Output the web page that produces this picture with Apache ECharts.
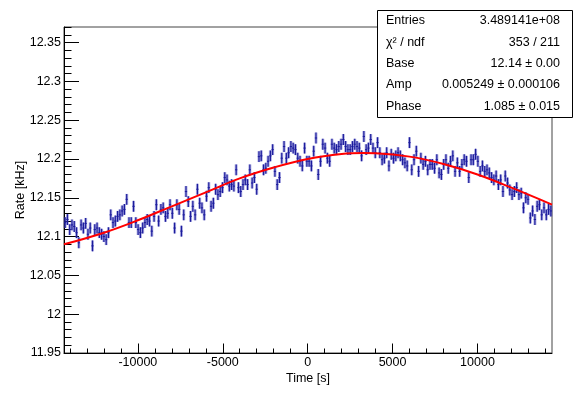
<!DOCTYPE html>
<html>
<head>
<meta charset="utf-8">
<script src="https://cdn.jsdelivr.net/npm/echarts@6/dist/echarts.min.js"></script>
<style>
  html, body { margin: 0; padding: 0; background: #fff; }
  #chart { width: 581px; height: 394px; }
</style>
</head>
<body>
<div id="chart"></div>
<script>
// time binning (s)
const tMin = -14350
const binWidth = 134.3
const tMax = tMin + 214 * binWidth

const rate = [
  12.118, 12.122, 12.109, 12.115, 12.113, 12.105, 12.092, 12.115, 12.111, 12.117,
  12.103, 12.111, 12.088, 12.109, 12.111, 12.105, 12.103, 12.100, 12.096, 12.105,
  12.128, 12.118, 12.120, 12.126, 12.128, 12.133, 12.135, 12.148, 12.118, 12.118,
  12.139, 12.118, 12.109, 12.105, 12.111, 12.118, 12.122, 12.120, 12.107, 12.126,
  12.141, 12.120, 12.135,
  12.137, 12.126, 12.130, 12.141, 12.130, 12.111, 12.141, 12.135, 12.107, 12.128,
  12.158, 12.145, 12.126, 12.139, 12.128, 12.161, 12.143, 12.137, 12.128, 12.152,
  12.163, 12.139, 12.143, 12.161, 12.154, 12.158, 12.163, 12.176, 12.173, 12.165,
  12.167, 12.165, 12.186, 12.163, 12.158, 12.167, 12.173, 12.167, 12.186, 12.169,
  12.176, 12.161, 12.203,
  12.204, 12.186, 12.188, 12.197, 12.204, 12.212, 12.184, 12.167, 12.176, 12.201,
  12.216, 12.201, 12.208, 12.216, 12.214, 12.212, 12.201, 12.197, 12.191, 12.214,
  12.197, 12.197, 12.191, 12.210, 12.227, 12.180, 12.197, 12.219, 12.214, 12.201,
  12.197, 12.219, 12.214, 12.212, 12.216, 12.219, 12.225, 12.216, 12.212, 12.212,
  12.216, 12.219, 12.216,
  12.214, 12.204, 12.229, 12.212, 12.214, 12.225, 12.214, 12.208, 12.221, 12.208,
  12.199, 12.201, 12.208, 12.191, 12.206, 12.201, 12.204, 12.208, 12.204, 12.199,
  12.195, 12.191, 12.221, 12.186, 12.199, 12.210, 12.184, 12.201, 12.193, 12.197,
  12.186, 12.193, 12.193, 12.188, 12.199, 12.182, 12.180, 12.193, 12.199, 12.188,
  12.197, 12.204, 12.184,
  12.195, 12.184, 12.193, 12.199, 12.197, 12.176, 12.199, 12.199, 12.206, 12.197,
  12.184, 12.191, 12.184, 12.186, 12.182, 12.176, 12.173, 12.178, 12.167, 12.173,
  12.158, 12.178, 12.169, 12.160, 12.154, 12.158, 12.163, 12.154, 12.156, 12.137,
  12.150, 12.148, 12.124, 12.133, 12.122, 12.139, 12.141, 12.128, 12.137, 12.128,
  12.135, 12.133
]
const rateErr = 0.007

// fitted curve
const fitT = [-14350, -12000, -10000, -8000, -6000, -4000, -2000, 0, 2000, 3300, 4000, 6000, 8000, 10000, 12000, 14390]
const fitRate = [12.090, 12.105, 12.121, 12.139, 12.157, 12.175, 12.189, 12.200, 12.2065, 12.2077, 12.2074, 12.203, 12.1935, 12.180, 12.163, 12.1412]

// axis ticks
const xMajor = [-10000, -5000, 0, 5000, 10000]
const yMajor = [11.95, 12, 12.05, 12.1, 12.15, 12.2, 12.25, 12.3, 12.35]

// stats box
const statNames = ['Entries', 'χ² / ndf', 'Base', 'Amp', 'Phase']
const statValues = ['3.489141e+08', '353 / 211', '12.14 ± 0.00', '0.005249 ± 0.000106', '1.085 ± 0.015']

const xMinor = []
for (let t = -14000; t <= 14000; t += 1000) {
  if (t % 5000 !== 0) xMinor.push(t)
}
const yMinor = []
for (let k = 1196; k <= 1237; k++) {
  if (k % 5 !== 0) yMinor.push(k / 100)
}

const font = 'Liberation Sans'
const dark = '#1b1b9c'

const points = rate.map((v, i) => [tMin + (i + 0.5) * binWidth, v, rateErr])
const fitData = fitT.map((t, i) => [t, fitRate[i]])

const renderPoint = (params, api) => {
  const t = api.value(0)
  const v = api.value(1)
  const e = api.value(2)
  const c = api.coord([t, v])
  const top = api.coord([t, v + e])
  const bot = api.coord([t, v - e])
  const l = api.coord([t - binWidth / 2, v])
  const r = api.coord([t + binWidth / 2, v])
  return {
    type: 'group',
    children: [
      {
        type: 'rect',
        shape: { x: c[0] - 1.5, y: top[1], width: 3, height: bot[1] - top[1] },
        style: { fill: 'rgba(70,70,190,0.42)' },
      },
      {
        type: 'line',
        shape: { x1: c[0], y1: top[1], x2: c[0], y2: bot[1] },
        style: { stroke: dark, lineWidth: 1.2 },
      },
      {
        type: 'line',
        shape: { x1: l[0], y1: c[1], x2: r[0], y2: c[1] },
        style: { stroke: dark, lineWidth: 1 },
      },
    ],
  }
}

const statsGraphics = [
  {
    type: 'rect',
    left: 377,
    top: 10,
    z: 100,
    shape: { width: 195, height: 107 },
    style: { fill: '#fff', stroke: '#000', lineWidth: 1 },
  },
]
statNames.forEach((name, i) => {
  const cy = 20.7 + i * 21.4
  statsGraphics.push({
    type: 'text',
    z: 101,
    x: 386,
    y: cy,
    style: { text: name, font: '12.5px "' + font + '"', fill: '#000', textVerticalAlign: 'middle', textAlign: 'left' },
  })
  statsGraphics.push({
    type: 'text',
    z: 101,
    x: 560,
    y: cy,
    style: { text: statValues[i], font: '12.5px "' + font + '"', fill: '#000', textVerticalAlign: 'middle', textAlign: 'right' },
  })
})

const chart = echarts.init(document.getElementById('chart'))
chart.setOption({
  animation: false,
  backgroundColor: '#fff',
  textStyle: { fontFamily: font },
  grid: {
    left: 64,
    right: 29,
    top: 27,
    bottom: 41,
    show: true,
    borderColor: '#444',
    borderWidth: 1,
    backgroundColor: 'transparent',
  },
  xAxis: [
    {
      type: 'value',
      min: tMin,
      max: tMax,
      position: 'bottom',
      name: 'Time [s]',
      nameLocation: 'middle',
      nameGap: 19,
      nameMoveOverlap: false,
      nameTextStyle: { fontSize: 12.5, color: '#000', fontFamily: font },
      axisLine: { show: true, onZero: false, lineStyle: { color: '#000', width: 1 } },
      axisTick: { show: true, inside: true, length: 9.5, customValues: xMajor, lineStyle: { color: '#000' } },
      axisLabel: { show: true, customValues: xMajor, margin: 3, fontSize: 12.5, color: '#000', fontFamily: font, formatter: (v) => String(v) },
      splitLine: { show: false },
    },
    {
      type: 'value',
      min: tMin,
      max: tMax,
      position: 'bottom',
      axisLine: { show: false, onZero: false },
      axisTick: { show: true, inside: true, length: 4.5, customValues: xMinor, lineStyle: { color: '#000' } },
      axisLabel: { show: false },
      splitLine: { show: false },
    },
  ],
  yAxis: [
    {
      type: 'value',
      min: 11.95,
      max: 12.37,
      position: 'left',
      name: 'Rate [kHz]',
      nameLocation: 'middle',
      nameGap: 37,
      nameMoveOverlap: false,
      nameTextStyle: { fontSize: 12.5, color: '#000', fontFamily: font },
      axisLine: { show: true, onZero: false, lineStyle: { color: '#000', width: 1 } },
      axisTick: { show: true, inside: true, length: 15, customValues: yMajor, lineStyle: { color: '#000' } },
      axisLabel: { show: true, customValues: yMajor, margin: 3, fontSize: 12.5, color: '#000', fontFamily: font, formatter: (v) => String(v) },
      splitLine: { show: false },
    },
    {
      type: 'value',
      min: 11.95,
      max: 12.37,
      position: 'left',
      axisLine: { show: false, onZero: false },
      axisTick: { show: true, inside: true, length: 7.5, customValues: yMinor, lineStyle: { color: '#000' } },
      axisLabel: { show: false },
      splitLine: { show: false },
    },
  ],
  series: [
    {
      type: 'custom',
      xAxisIndex: 0,
      yAxisIndex: 0,
      renderItem: renderPoint,
      data: points,
      z: 3,
    },
    {
      type: 'line',
      xAxisIndex: 0,
      yAxisIndex: 0,
      data: fitData,
      smooth: 0.4,
      showSymbol: false,
      symbol: 'none',
      lineStyle: { color: '#ff0000', width: 2 },
      z: 5,
    },
  ],
  graphic: statsGraphics,
})
</script>
</body>
</html>
